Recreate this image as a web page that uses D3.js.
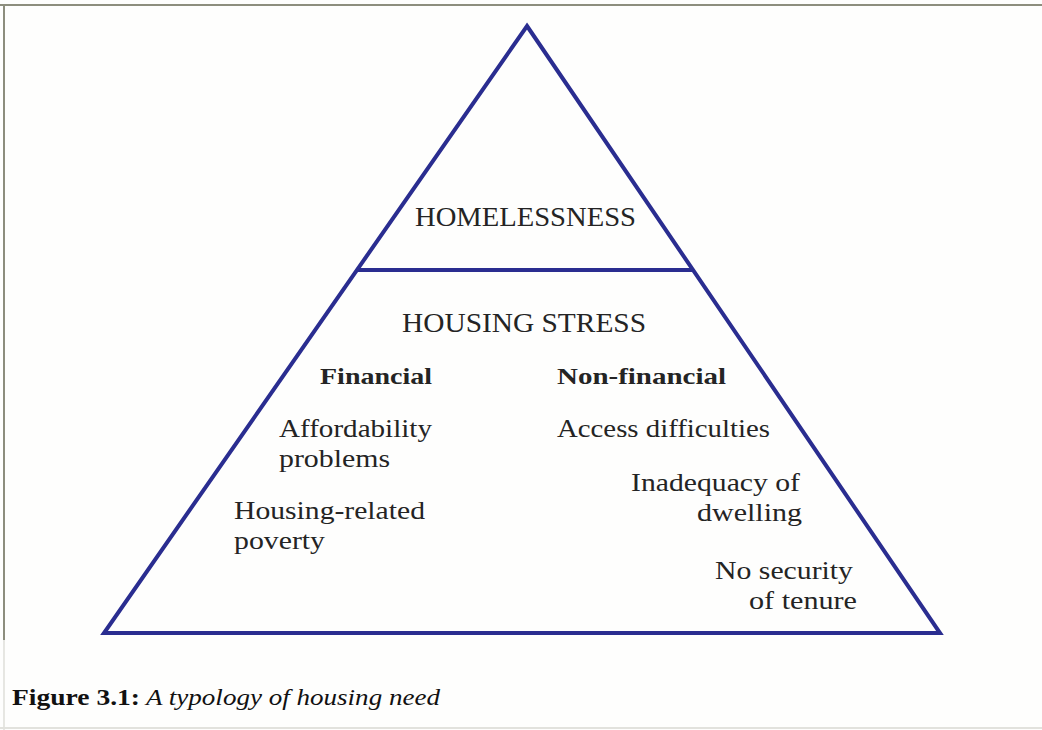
<!DOCTYPE html>
<html>
<head>
<meta charset="utf-8">
<script src="https://cdn.jsdelivr.net/npm/d3@7"></script>
<style>
  html, body { margin: 0; padding: 0; background: #fefefd; }
  svg { display: block; }
</style>
</head>
<body>
<svg id="chart" width="1042" height="730"></svg>
<script>
// ---------- data ----------
const tiers = ["HOMELESSNESS", "HOUSING STRESS"];
const dimensions = ["Financial", "Non-financial"];
const financialNeeds = [["Affordability", "problems"], ["Housing-related", "poverty"]];
const nonFinancialNeeds = [["Access difficulties"], ["Inadequacy of", "dwelling"], ["No security", "of tenure"]];
const captionLabel = "Figure 3.1:";
const captionTitle = "A typology of housing need";

// ---------- layout (pixel geometry, kept separate from data) ----------
const W = 1042, H = 730;
const x = d3.scaleLinear().domain([0, 1]).range([104, 940]);
const y = d3.scaleLinear().domain([0, 1]).range([26, 633]);
const apex = [x(0.506), y(0)], baseL = [x(0), y(1)], baseR = [x(1), y(1)];
const dividerT = 0.402; // fraction of height
const blue = "#2a2d90", ink = "#242424";

// text placements: [x, baseline, width]
const tierPos = [[415, 226, 221], [402, 332, 244]];
const dimPos = [[320, 384, 112], [557, 384, 169]];
const finPos = [[[279, 437, 153], [279, 467, 111]], [[234, 519, 191], [234, 549, 91]]];
const nonFinPos = [[[557, 437, 213]], [[631, 491, 169], [697, 521, 105]], [[715, 579, 138], [749, 609, 108]]];

const svg = d3.select("#chart");

// frame
svg.append("rect").attr("x", 0).attr("y", 0).attr("width", W).attr("height", H).attr("fill", "#fefefd");
svg.append("line").attr("x1", 0).attr("x2", W).attr("y1", 5).attr("y2", 5)
  .attr("stroke", "#8d8e7e").attr("stroke-width", 2);
svg.append("line").attr("x1", 4).attr("x2", 4).attr("y1", 5).attr("y2", 640)
  .attr("stroke", "#8d8e7e").attr("stroke-width", 2);
svg.append("line").attr("x1", 4).attr("x2", 4).attr("y1", 640).attr("y2", H)
  .attr("stroke", "#cfcfc7").attr("stroke-width", 1);
svg.append("line").attr("x1", 0).attr("x2", W).attr("y1", 728).attr("y2", 728)
  .attr("stroke", "#e2e2dd").attr("stroke-width", 2);

// triangle
const line = d3.line();
svg.append("path")
  .attr("d", line([apex, baseR, baseL]) + "Z")
  .attr("fill", "none").attr("stroke", blue).attr("stroke-width", 4)
  .attr("stroke-linejoin", "miter");

const dl = d3.interpolate(apex, baseL)(dividerT);
const dr = d3.interpolate(apex, baseR)(dividerT);
svg.append("path").attr("d", line([dl, dr]))
  .attr("fill", "none").attr("stroke", blue).attr("stroke-width", 4);

function addText(str, pos, opts) {
  const t = svg.append("text")
    .attr("x", pos[0]).attr("y", pos[1])
    .attr("font-family", "'Liberation Serif', 'DejaVu Serif', serif")
    .attr("font-size", opts.size)
    .attr("font-weight", opts.weight || "normal")
    .attr("font-style", opts.style || "normal")
    .attr("fill", opts.fill || ink)
    .text(str);
  if (pos[2]) t.attr("textLength", pos[2]).attr("lengthAdjust", "spacingAndGlyphs");
  return t;
}

tiers.forEach((s, i) => addText(s, tierPos[i], { size: 27 }));
dimensions.forEach((s, i) => addText(s, dimPos[i], { size: 24, weight: "bold" }));
financialNeeds.forEach((lines, i) => lines.forEach((s, j) => addText(s, finPos[i][j], { size: 26 })));
nonFinancialNeeds.forEach((lines, i) => lines.forEach((s, j) => addText(s, nonFinPos[i][j], { size: 26 })));

// caption
addText(captionLabel, [12, 705, 128], { size: 24, weight: "bold", fill: "#111" });
addText(captionTitle, [146, 705, 294], { size: 24, style: "italic", fill: "#111" });
</script>
</body>
</html>
